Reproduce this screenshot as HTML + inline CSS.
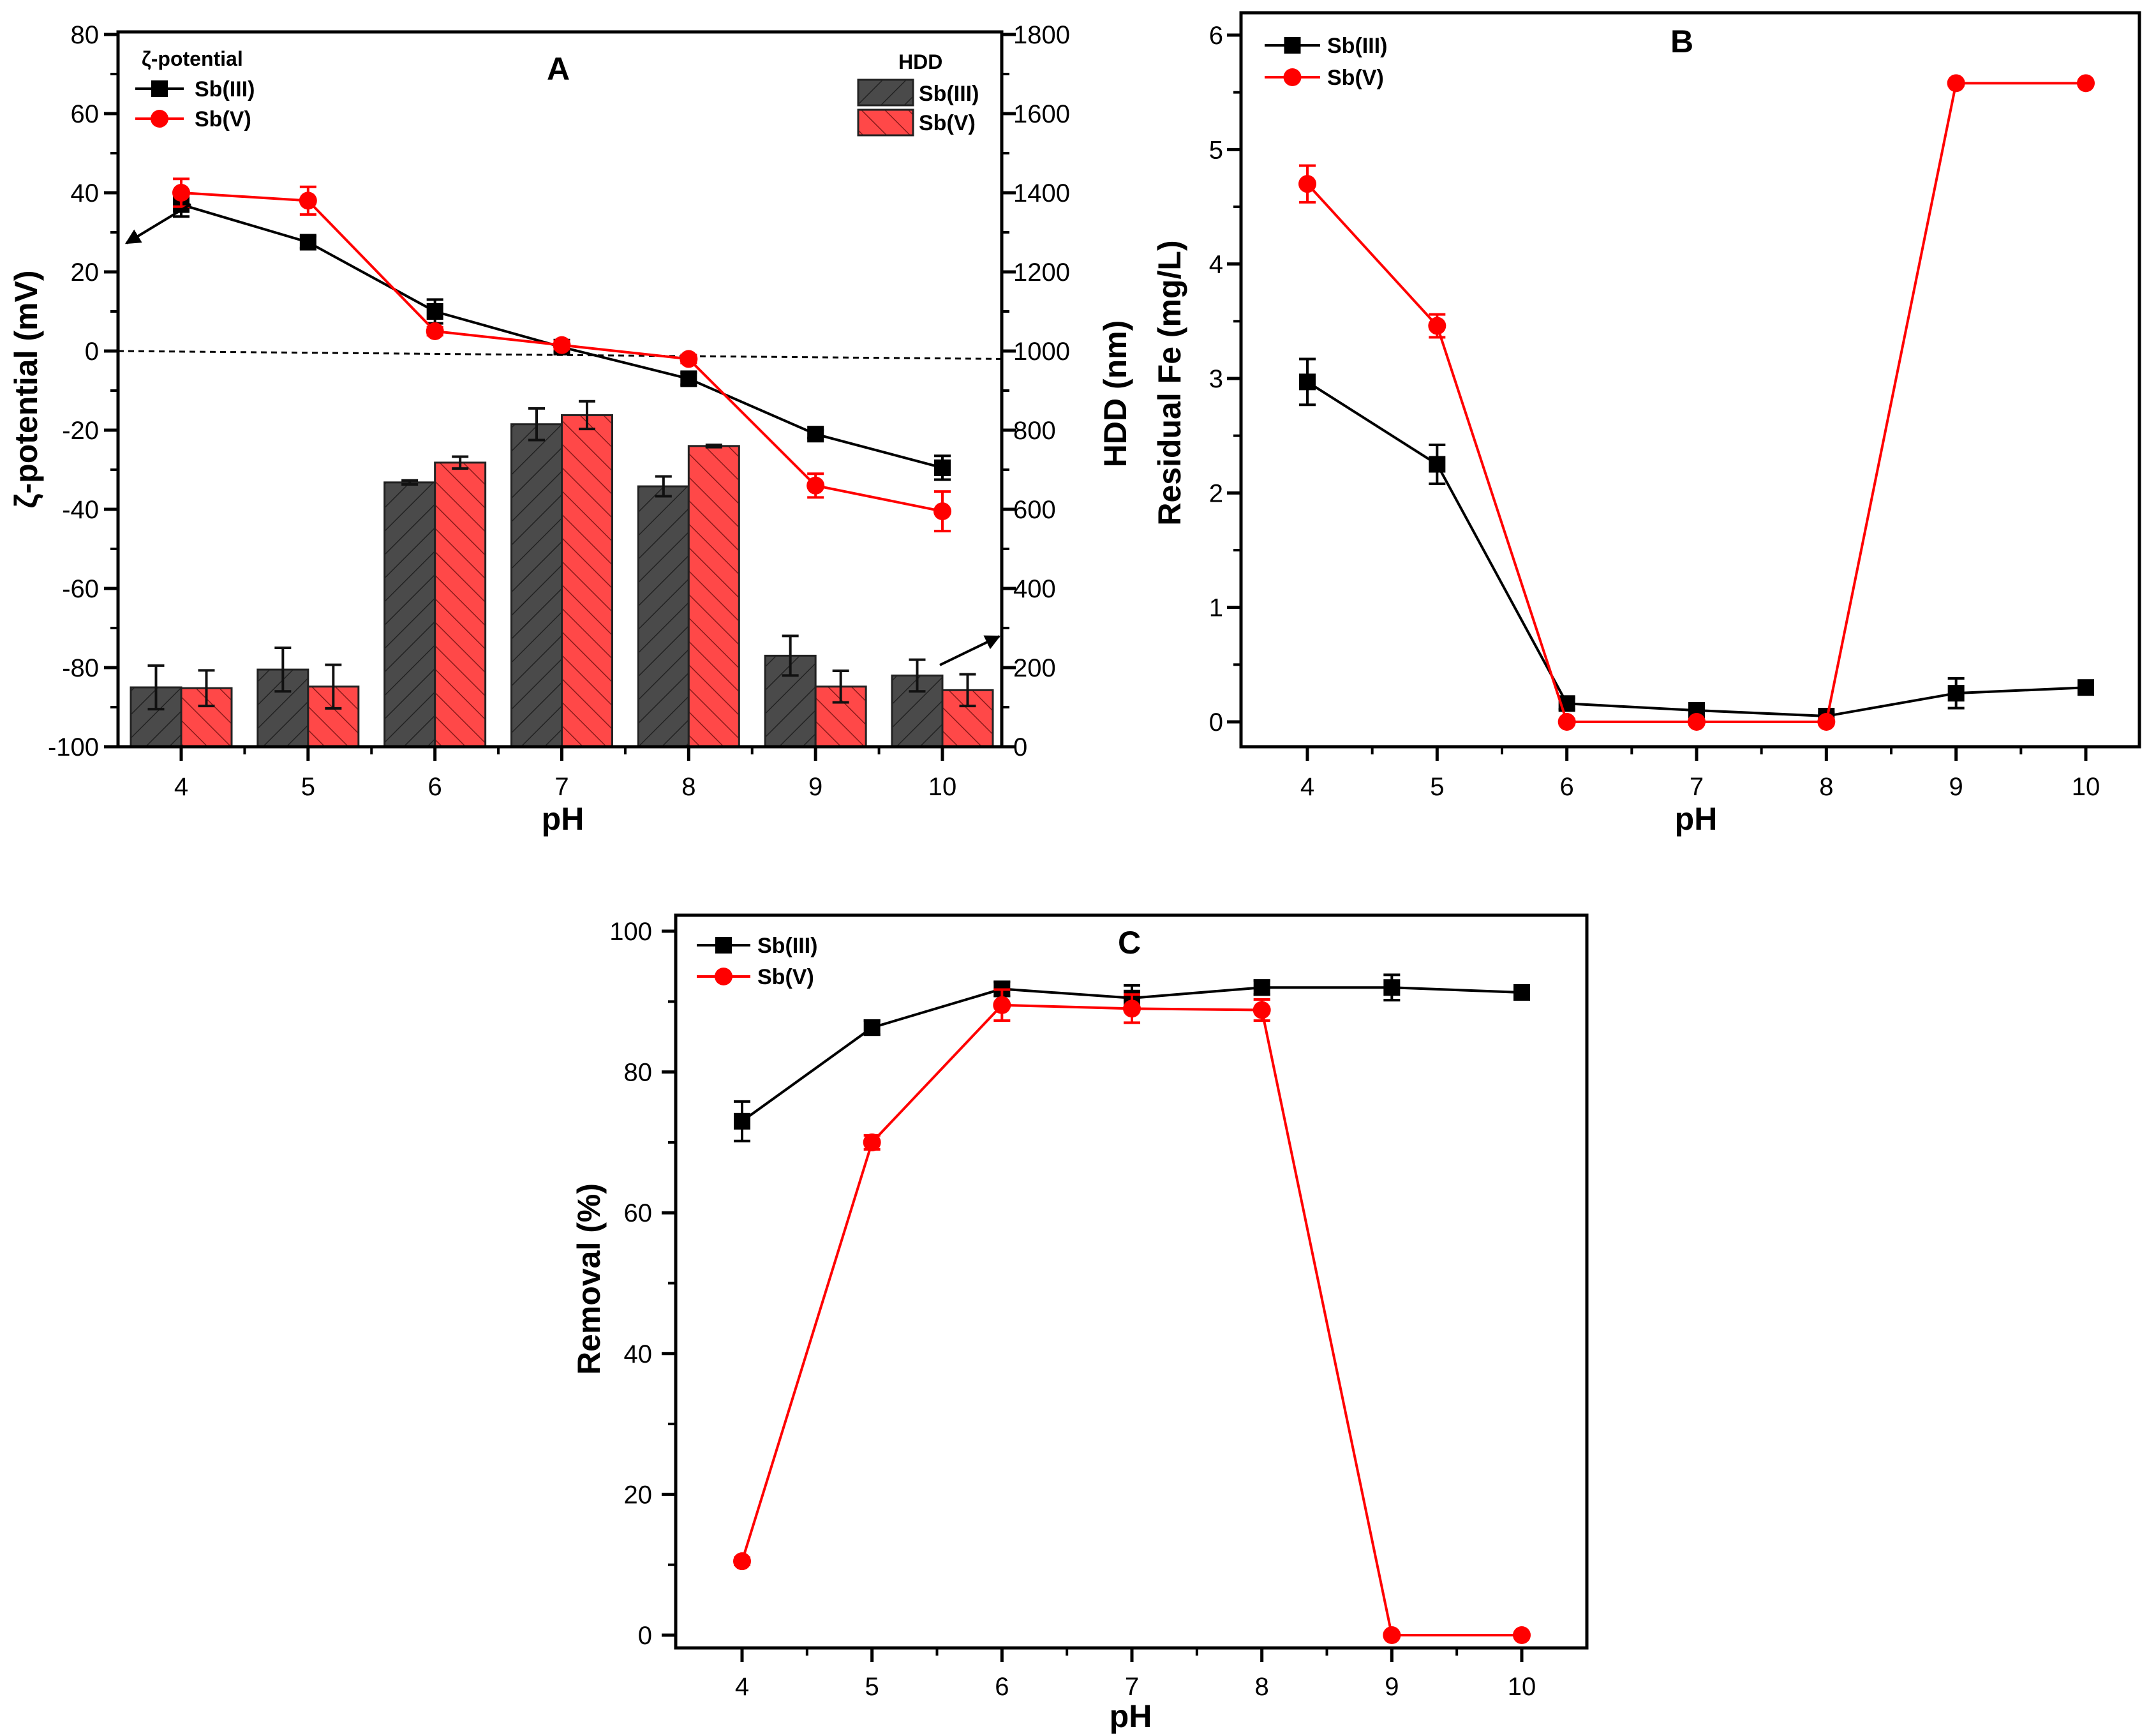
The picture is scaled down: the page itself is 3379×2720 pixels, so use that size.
<!DOCTYPE html>
<html><head><meta charset="utf-8">
<style>
html,body{margin:0;padding:0;background:#fff;}
svg{display:block;font-family:"Liberation Sans",Arial,sans-serif;}
</style></head>
<body>
<svg id="fig" width="3379" height="2720" viewBox="0 0 3379 2720" xmlns="http://www.w3.org/2000/svg">
<defs>
<pattern id="hatchDark" patternUnits="userSpaceOnUse" width="26" height="26" patternTransform="rotate(45)">
<rect width="26" height="26" fill="#4a4a4a"/><line x1="0" y1="0" x2="0" y2="26" stroke="#222" stroke-width="3"/></pattern>
<pattern id="hatchRed" patternUnits="userSpaceOnUse" width="26" height="26" patternTransform="rotate(-45)">
<rect width="26" height="26" fill="#ff4848"/><line x1="0" y1="0" x2="0" y2="26" stroke="#8a1a1a" stroke-width="3"/></pattern>
<marker id="arrowHead" viewBox="0 0 10 10" refX="9" refY="5" markerWidth="6" markerHeight="6" orient="auto"><path d="M0,0 L10,5 L0,10 z" fill="#000"/></marker>
</defs>
<g id="root"></g>
</svg>
<script>
// ---------- DATA ----------
const phCats = [4,5,6,7,8,9,10];
// Panel A: zeta potential (mV)
const zetaSb3 = [37,27.5,10,1,-7,-21,-29.5];
const zetaSb3Err = [3,1.5,3,1,1.5,1,3];
const zetaSb5 = [40,38,5,1.5,-2,-34,-40.5];
const zetaSb5Err = [3.5,3.5,1,1,1,3,5];
// Panel A: HDD (nm)
const hddSb3 = [150,195,668,815,658,230,180];
const hddSb3Err = [55,55,5,40,25,50,40];
const hddSb5 = [148,152,718,838,760,152,143];
const hddSb5Err = [45,55,15,35,3,40,40];
const zetaTicks = [-100,-80,-60,-40,-20,0,20,40,60,80];
const hddTicks = [0,200,400,600,800,1000,1200,1400,1600,1800];
// Panel B: residual Fe (mg/L)
const feSb3 = [2.97,2.25,0.16,0.1,0.05,0.25,0.3];
const feSb3Err = [0.2,0.17,0.05,0.04,0.03,0.13,0.06];
const feSb5 = [4.7,3.46,0,0,0,5.58,5.58];
const feSb5Err = [0.16,0.1,0.02,0.02,0.02,0.02,0.02];
const feTicks = [0,1,2,3,4,5,6];
// Panel C: removal (%)
const remSb3 = [73,86.3,91.8,90.5,92,92,91.3];
const remSb3Err = [2.8,1,1,1.8,1,1.8,0.8];
const remSb5 = [10.5,70,89.5,89,88.8,0,0];
const remSb5Err = [0.5,1,2.2,2,1.5,0.3,0.3];
const remTicks = [0,20,40,60,80,100];

// ---------- HELPERS ----------
const NS="http://www.w3.org/2000/svg";
const root=document.getElementById('root');
function mk(tag,attrs,parent,txt){const e=document.createElementNS(NS,tag);for(const k in attrs)e.setAttribute(k,attrs[k]);if(txt!==undefined)e.textContent=txt;(parent||root).appendChild(e);return e;}
function lin(d0,d1,r0,r1){return v=>r0+(v-d0)*(r1-r0)/(d1-d0);}

function frame(g,L,T,R,B){
  mk('rect',{x:L,y:T,width:R-L,height:B-T,fill:'none',stroke:'#000','stroke-width':5},g);
}
function xAxis(g,x,B,L,R,labY){
  const xa=mk('g',{},g);
  
  phCats.forEach((c,i)=>{
    mk('line',{x1:x(c),y1:B,x2:x(c),y2:B+22,stroke:'#000','stroke-width':5},xa);
    const t=mk('text',{x:x(c),y:labY,'font-size':40,'text-anchor':'middle'},xa,String(c));
    
  });
  for(let c=3.5;c<=10.5;c+=1){const xx=x(c);if(xx>L+3&&xx<R-3)mk('line',{x1:xx,y1:B,x2:xx,y2:B+12,stroke:'#000','stroke-width':4},xa);}
}
function yAxis(g,y,ticks,L,side,labX,fmt){
  const ya=mk('g',{},g);
  
  const dir=side==='left'?-1:1;
  ticks.forEach((v,i)=>{
    mk('line',{x1:L,y1:y(v),x2:L+dir*22,y2:y(v),stroke:'#000','stroke-width':5},ya);
    const t=mk('text',{x:labX,y:y(v)+14,'font-size':40,'text-anchor':side==='left'?'end':'start'},ya,fmt?fmt(v):String(v));
    
    if(i<ticks.length-1){const m=(v+ticks[i+1])/2;mk('line',{x1:L,y1:y(m),x2:L+dir*12,y2:y(m),stroke:'#000','stroke-width':4},ya);}
  });
}
function series(g,x,y,vals,errs,color,shape,name){
  const s=mk('g',{},g);
  
  const pts=vals.map((v,i)=>x(phCats[i])+','+y(v)).join(' ');
  mk('polyline',{points:pts,fill:'none',stroke:color,'stroke-width':4},s);
  vals.forEach((v,i)=>{
    const cx=x(phCats[i]),cy=y(v),e1=y(v+errs[i]),e2=y(v-errs[i]);
    mk('line',{x1:cx,y1:e1,x2:cx,y2:e2,stroke:color,'stroke-width':4},s);
    mk('line',{x1:cx-13,y1:e1,x2:cx+13,y2:e1,stroke:color,'stroke-width':4},s);
    mk('line',{x1:cx-13,y1:e2,x2:cx+13,y2:e2,stroke:color,'stroke-width':4},s);
    let m;
    if(shape==='sq')m=mk('rect',{x:cx-13,y:cy-13,width:26,height:26,fill:color},s);
    else m=mk('circle',{cx:cx,cy:cy,r:14,fill:color},s);
    
  });
}
function legendLine(g,x1,x2,yy,color,shape,label,tx,name){
  const l=mk('g',{},g);
  
  mk('line',{x1:x1,y1:yy,x2:x2,y2:yy,stroke:color,'stroke-width':4},l);
  const cx=(x1+x2)/2;
  if(shape==='sq')mk('rect',{x:cx-13,y:yy-13,width:26,height:26,fill:color},l);
  else mk('circle',{cx:cx,cy:yy,r:14,fill:color},l);
  mk('text',{x:tx,y:yy+12,'font-size':34,'font-weight':'bold'},l,label);
}
function title(g,x,yy,txt,size,rot,name){
  const t=mk('text',{x:x,y:yy,'font-size':size,'font-weight':'bold','text-anchor':'middle',transform:rot?`rotate(-90 ${x} ${yy})`:''},g,txt);
  
  return t;
}

// ---------- PANEL A ----------
(function(){
  const g=mk('g',{});
  const L=185,R=1570,T=50,B=1170;
  const x=lin(4,10,284,1477);
  const y=lin(-100,80,1170,54);
  const yh=lin(0,1800,1170,54);
  const bw=79;
  const bars=mk('g',{},g);
  function bar(i,v,e,left,fill,nm){
    const cx=x(phCats[i]);const bx=left?cx-bw:cx;
    const r=mk('rect',{x:bx,y:yh(v),width:bw,height:yh(0)-yh(v),fill:fill,stroke:'#222','stroke-width':3},bars);
    
    const mx=bx+bw/2,e1=yh(v+e),e2=yh(v-e);
    mk('line',{x1:mx,y1:e1,x2:mx,y2:e2,stroke:'#111','stroke-width':4},bars);
    mk('line',{x1:mx-13,y1:e1,x2:mx+13,y2:e1,stroke:'#111','stroke-width':4},bars);
    mk('line',{x1:mx-13,y1:e2,x2:mx+13,y2:e2,stroke:'#111','stroke-width':4},bars);
  }
  phCats.forEach((c,i)=>{bar(i,hddSb3[i],hddSb3Err[i],true,'url(#hatchDark)','bar-hdd-sb3');bar(i,hddSb5[i],hddSb5Err[i],false,'url(#hatchRed)','bar-hdd-sb5');});
  const z=mk('line',{x1:L,y1:y(0),x2:R,y2:y(-2),stroke:'#000','stroke-width':3,'stroke-dasharray':'9 7'},g);
  
  series(g,x,y,zetaSb3,zetaSb3Err,'#000','sq','zeta-sb3-series');
  series(g,x,y,zetaSb5,zetaSb5Err,'#ff0000','ci','zeta-sb5-series');
  frame(g,L,T,R,B);
  xAxis(g,x,B,L,R,1246);
  yAxis(g,y,zetaTicks,L,'left',155);
  yAxis(g,yh,hddTicks,R,'right',1588);
  mk('line',{x1:299,y1:320,x2:198,y2:381,stroke:'#000','stroke-width':4,'marker-end':'url(#arrowHead)'},g);
  mk('line',{x1:1473,y1:1042,x2:1566,y2:997,stroke:'#000','stroke-width':4,'marker-end':'url(#arrowHead)'},g);
  title(g,882,1300,'pH',50,false,'x-axis-title-a');
  title(g,58,610,'ζ-potential (mV)',50,true,'y-axis-title-a');
  title(g,1765,617,'HDD (nm)',50,true,'y-axis-title-a-right');
  title(g,875,125,'A',50,false,'panel-label-a');
  const lg=mk('g',{},g);
  mk('text',{x:222,y:103,'font-size':32,'font-weight':'bold'},lg,'ζ-potential');
  legendLine(lg,212,288,139,'#000','sq','Sb(III)',305,'legend-entry-zeta-sb3');
  legendLine(lg,212,288,186,'#ff0000','ci','Sb(V)',305,'legend-entry-zeta-sb5');
  const lh=mk('g',{},g);
  mk('text',{x:1408,y:108,'font-size':32,'font-weight':'bold'},lh,'HDD');
  mk('rect',{x:1345,y:125,width:86,height:40,fill:'url(#hatchDark)',stroke:'#222','stroke-width':3},lh);
  mk('rect',{x:1345,y:172,width:86,height:40,fill:'url(#hatchRed)',stroke:'#222','stroke-width':3},lh);
  mk('text',{x:1440,y:158,'font-size':34,'font-weight':'bold'},lh,'Sb(III)');
  mk('text',{x:1440,y:204,'font-size':34,'font-weight':'bold'},lh,'Sb(V)');
})();

// ---------- PANEL B ----------
(function(){
  const g=mk('g',{});
  const L=1945,R=3353,T=20,B=1170;
  const x=lin(4,10,2049,3269);
  const y=lin(0,6,1131,55);
  series(g,x,y,feSb3,feSb3Err,'#000','sq','fe-sb3-series');
  series(g,x,y,feSb5,feSb5Err,'#ff0000','ci','fe-sb5-series');
  frame(g,L,T,R,B);
  xAxis(g,x,B,L,R,1246);
  yAxis(g,y,feTicks,L,'left',1917);
  title(g,2658,1300,'pH',50,false,'x-axis-title-b');
  title(g,1850,600,'Residual Fe (mg/L)',50,true,'y-axis-title-b');
  title(g,2636,82,'B',50,false,'panel-label-b');
  const lg=mk('g',{},g);
  legendLine(lg,1982,2069,71,'#000','sq','Sb(III)',2080,'legend-entry-b-sb3');
  legendLine(lg,1982,2069,121,'#ff0000','ci','Sb(V)',2080,'legend-entry-b-sb5');
})();

// ---------- PANEL C ----------
(function(){
  const g=mk('g',{});
  const L=1059,R=2487,T=1434,B=2582;
  const x=lin(4,10,1163,2385);
  const y=lin(0,100,2562,1459);
  series(g,x,y,remSb3,remSb3Err,'#000','sq','removal-sb3-series');
  series(g,x,y,remSb5,remSb5Err,'#ff0000','ci','removal-sb5-series');
  frame(g,L,T,R,B);
  xAxis(g,x,B,L,R,2656);
  yAxis(g,y,remTicks,L,'left',1022);
  title(g,1772,2706,'pH',50,false,'x-axis-title-c');
  title(g,940,2004,'Removal (%)',50,true,'y-axis-title-c');
  title(g,1770,1494,'C',50,false,'panel-label-c');
  const lg=mk('g',{},g);
  legendLine(lg,1092,1176,1481,'#000','sq','Sb(III)',1187,'legend-entry-c-sb3');
  legendLine(lg,1092,1176,1530,'#ff0000','ci','Sb(V)',1187,'legend-entry-c-sb5');
})();
</script>
</body></html>
